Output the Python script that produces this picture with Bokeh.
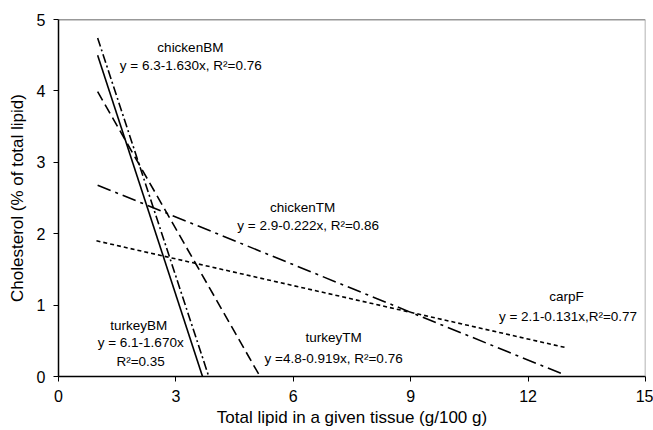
from bokeh.plotting import figure
from bokeh.models import Range1d, Span, FixedTicker, ColumnDataSource
from bokeh.core.properties import value
from bokeh.embed import file_html
from bokeh.resources import INLINE

# Fitted line endpoints (x = total lipid, y = cholesterol)
series = ["turkeyBM", "chickenBM", "turkeyTM", "chickenTM", "carpF"]
x_start = [1.0, 1.0, 1.0, 1.0, 0.97]
x_end = [3.68, 3.84, 5.15, 12.9, 13.0]
y_start = [4.50, 4.74, 3.99, 2.68, 1.90]
y_end = [0.0, 0.0, 0.0, 0.03, 0.40]
dashes = ["solid", "9 3 2 3", "10 5", "14 5 3 5", "4 3"]

# Annotation labels
labels = ["chickenBM", "y = 6.3-1.630x, R²=0.76",
          "chickenTM", "y = 2.9-0.222x, R²=0.86",
          "carpF", "y = 2.1-0.131x,R²=0.77",
          "turkeyBM", "y = 6.1-1.670x", "R²=0.35",
          "turkeyTM", "y =4.8-0.919x, R²=0.76"]
label_x = [3.37, 3.38, 6.24, 6.38, 12.98, 13.02, 2.05, 2.10, 2.10, 7.03, 7.03]
label_y = [4.61, 4.35, 2.36, 2.12, 1.12, 0.84, 0.72, 0.48, 0.21, 0.55, 0.25]

x_ticks = [0, 3, 6, 9, 12, 15]
y_ticks = [0, 1, 2, 3, 4, 5]

FONT = "Liberation Sans"

p = figure(width=653, height=430, output_backend="svg", toolbar_location=None,
           x_range=Range1d(0, 15), y_range=Range1d(0, 5),
           min_border_left=58, min_border_right=8, min_border_top=19, min_border_bottom=54)
p.outline_line_color = None
p.grid.visible = False
p.background_fill_color = "white"
p.border_fill_color = "white"

for i in range(len(series)):
    p.line([x_start[i], x_end[i]], [y_start[i], y_end[i]], line_color="black",
           line_width=1.6, line_dash=dashes[i])

src = ColumnDataSource(dict(x=label_x, y=label_y, t=labels))
p.text(x="x", y="y", text="t", source=src, text_font=value(FONT),
       text_font_size="13.5px", text_align="center", text_baseline="middle",
       text_color="black")

# top and right frame borders
p.add_layout(Span(location=5, dimension="width", line_color="#333333", line_width=1.5))
p.add_layout(Span(location=15, dimension="height", line_color="#999999", line_width=1.5))

for ax in (p.xaxis[0], p.yaxis[0]):
    ax.axis_line_color = "black"
    ax.axis_line_width = 1.5
    ax.major_tick_line_color = "black"
    ax.major_tick_line_width = 1
    ax.major_tick_in = 0
    ax.major_tick_out = 5
    ax.minor_tick_line_color = None
    ax.major_label_text_font = FONT
    ax.major_label_text_font_size = "16px"
    ax.major_label_text_color = "black"
    ax.axis_label_text_font = FONT
    ax.axis_label_text_font_size = "17px"
    ax.axis_label_text_font_style = "normal"
    ax.axis_label_text_color = "black"

p.xaxis[0].ticker = FixedTicker(ticks=x_ticks)
p.yaxis[0].ticker = FixedTicker(ticks=y_ticks)
p.xaxis[0].axis_label = "Total lipid in a given tissue (g/100 g)"
p.yaxis[0].axis_label = "Cholesterol (% of total lipid)"
p.xaxis[0].major_label_standoff = 8
p.yaxis[0].major_label_standoff = 8
p.xaxis[0].axis_label_standoff = 3
p.yaxis[0].axis_label_standoff = 7

open("out.html", "w").write(file_html(p, INLINE))
